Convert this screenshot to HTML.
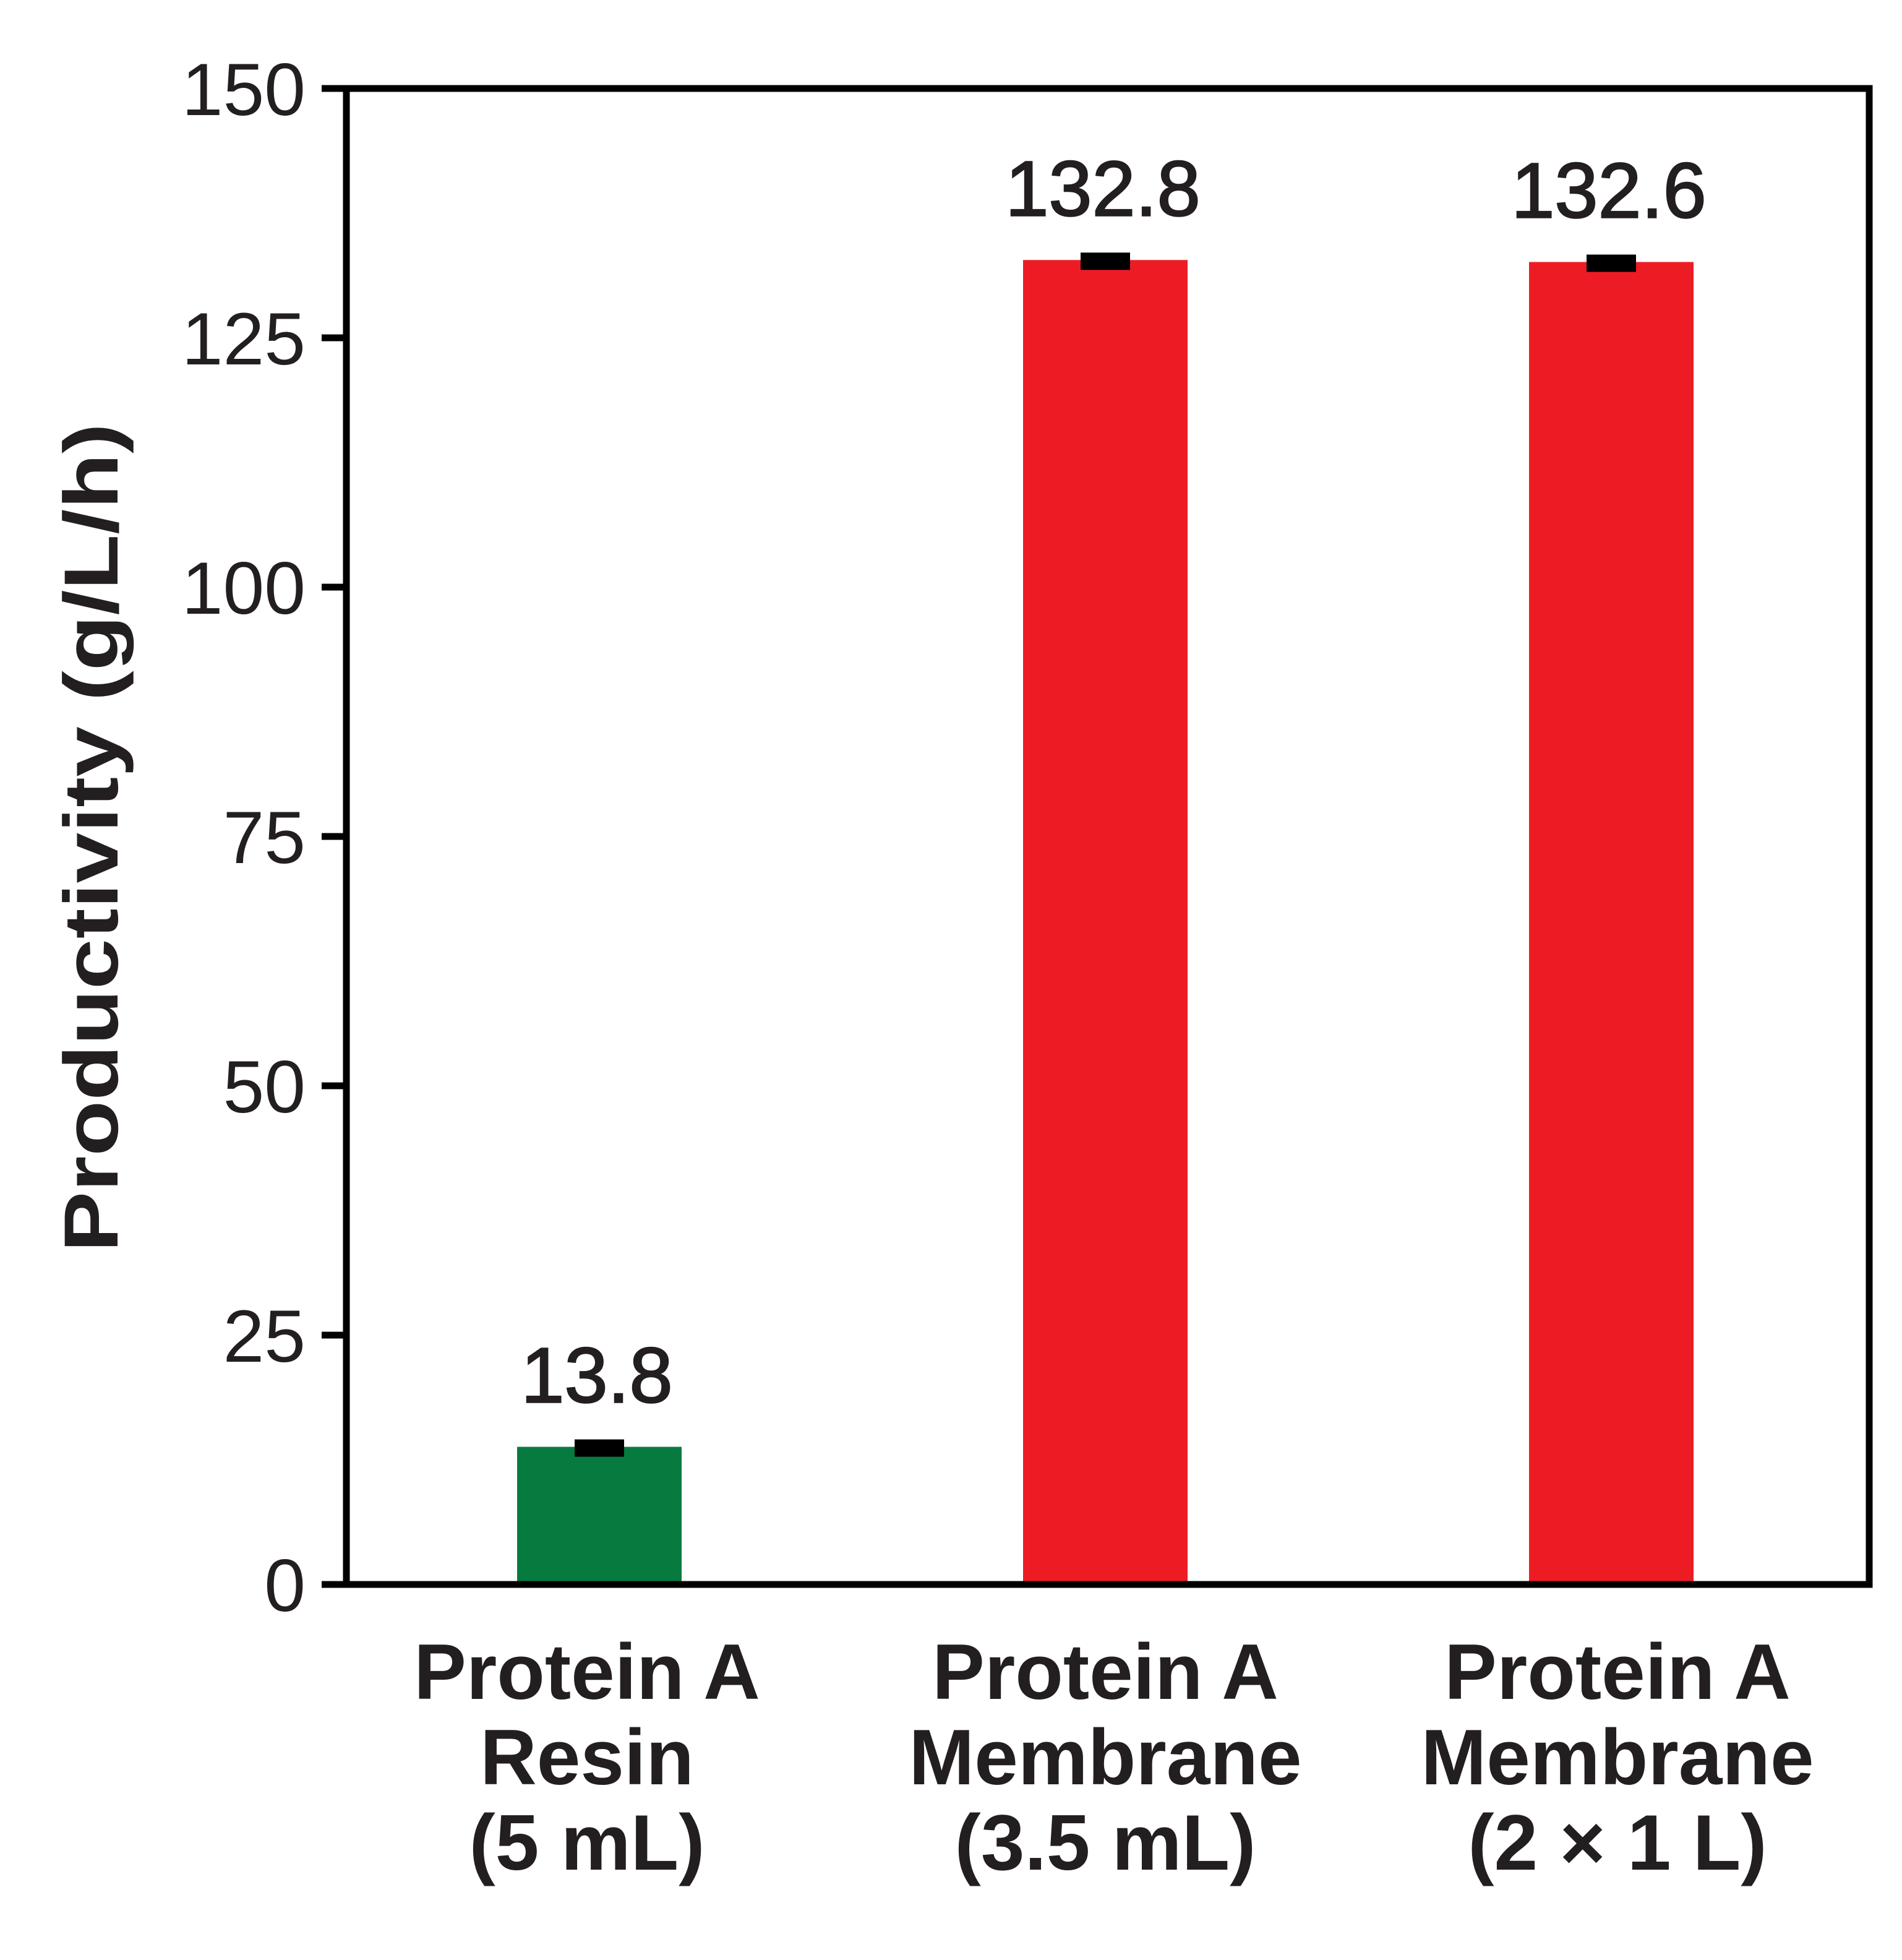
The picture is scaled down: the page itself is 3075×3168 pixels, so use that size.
<!DOCTYPE html>
<html><head><meta charset="utf-8"><style>
html,body{margin:0;padding:0;background:#fff;}
svg{display:block;}
text{font-family:"Liberation Sans",sans-serif;fill:#231f20;}
</style></head><body>
<svg id="chart" width="3075" height="3168" viewBox="0 0 3075 3168" xmlns="http://www.w3.org/2000/svg">
<g id="plot"></g>
</svg>
<script>
const categories = [["Protein A","Resin","(5 mL)"],["Protein A","Membrane","(3.5 mL)"],["Protein A","Membrane","(2 × 1 L)"]];
const values = [13.8, 132.8, 132.6];
const valueLabels = ["13.8","132.8","132.6"];
const barColors = ["#077a40","#ed1c24","#ed1c24"];
const yTicks = [0,25,50,75,100,125,150];

const NS = "http://www.w3.org/2000/svg";
const g = document.getElementById('plot');
const L = 560, R = 3022, T = 143, B = 2561;
const yMax = 150;
function y(v){ return B - v/yMax*(B-T); }
const centers0 = 969, step = 818;
function x(i){ return centers0 + i*step; }
const labelOffsets = [-20, 0, 10];
function mk(tag, attrs, parent){ const e=document.createElementNS(NS,tag); for(const k in attrs) e.setAttribute(k,attrs[k]); (parent||g).appendChild(e); return e; }

values.forEach((v,i)=>{
  const r = mk('rect',{x:x(i)-133,y:y(v),width:266,height:B-y(v),fill:barColors[i]});
  
  
  const c = mk('rect',{x:x(i)-40,y:y(v)-12,width:80,height:28,fill:'#000'});
  
  
  const t = mk('text',{x:x(i)-4,y:y(v)-72,'font-size':126,'text-anchor':'middle',stroke:'#231f20','stroke-width':2.5});
  t.textContent = valueLabels[i];
  
  
  categories[i].forEach((line,j)=>{
    const ct = mk('text',{x:x(i)+labelOffsets[i],y:2746+j*138,'font-size':127,'font-weight':'bold','text-anchor':'middle'});
    ct.textContent = line;
    
    
  });
});

yTicks.forEach(v=>{
  const tk = mk('line',{x1:520,x2:L,y1:y(v),y2:y(v),stroke:'#000','stroke-width':11});
  
  
  const tl = mk('text',{x:494,y:y(v)+43,'font-size':120,'text-anchor':'end'});
  tl.textContent = v;
  
  
});

const fr = mk('rect',{x:L,y:T,width:R-L,height:B-T,fill:'none',stroke:'#000','stroke-width':11});



const yt = mk('text',{x:0,y:0,'font-size':124,'font-weight':'bold','text-anchor':'middle',transform:'translate(190,1354) rotate(-90)',textLength:1340,lengthAdjust:'spacingAndGlyphs'});
yt.textContent = 'Productivity (g/L/h)';


</script>
</body></html>
